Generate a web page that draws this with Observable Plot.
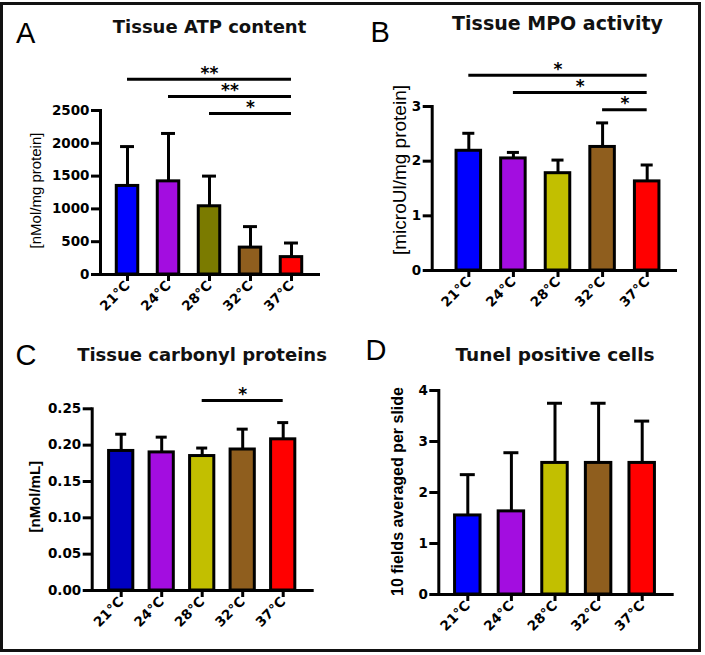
<!DOCTYPE html>
<html><head><meta charset="utf-8">
<script src="https://cdn.jsdelivr.net/npm/d3@7"></script>
<script src="https://cdn.jsdelivr.net/npm/@observablehq/plot@0.6"></script>
<style>
body{margin:0;background:#fff;}
#fig{position:relative;width:705px;height:655px;overflow:hidden;background:#fff;}
#border{position:absolute;left:0;top:2px;width:701px;height:650px;border:3.5px solid #111;box-sizing:border-box;pointer-events:none;}
</style></head><body><div id="fig"><div id="border"></div></div>
<script>
// ---- data ----
const temps = ["21°C", "24°C", "28°C", "32°C", "37°C"];

const atpMean = [1350, 1420, 1040, 410, 265];
const atpSD = [600, 730, 460, 320, 215];
const atpColors = ["#0000ff", "#a30de0", "#7b7b00", "#8f5e1e", "#ff0000"];
const atpTicks = [0, 500, 1000, 1500, 2000, 2500];
const atpSigFrom = ["21°C", "24°C", "28°C"];
const atpSigLabel = ["**", "**", "*"];

const mpoMean = [2.19, 2.05, 1.78, 2.26, 1.63];
const mpoSD = [0.32, 0.11, 0.24, 0.44, 0.30];
const mpoColors = ["#0000ff", "#a30de0", "#c2bf00", "#8f5e1e", "#ff0000"];
const mpoTicks = [0, 1, 2, 3];
const mpoSigFrom = ["21°C", "24°C", "32°C"];
const mpoSigLabel = ["*", "*", "*"];

const carbMean = [0.192, 0.190, 0.185, 0.194, 0.208];
const carbSD = [0.023, 0.021, 0.011, 0.028, 0.023];
const carbColors = ["#0000c0", "#a30de0", "#c2bf00", "#8f5e1e", "#ff0000"];
const carbTicks = [0, 0.05, 0.10, 0.15, 0.20, 0.25];
const carbSigFrom = ["28°C"];
const carbSigLabel = ["*"];

const tunelMean = [1.55, 1.63, 2.58, 2.58, 2.58];
const tunelSD = [0.80, 1.15, 1.17, 1.17, 0.82];
const tunelColors = ["#0000ff", "#a30de0", "#c2bf00", "#8f5e1e", "#ff0000"];
const tunelTicks = [0, 1, 2, 3, 4];
const tunelSigFrom = [];
const tunelSigLabel = [];

const sigTo = "37°C";

// ---- layout ----
const panels = [
  {letter: "A", title: "Tissue ATP content", ylabel: "[nMol/mg protein]", mean: atpMean, sd: atpSD, colors: atpColors,
   ticks: atpTicks, fmt: d3.format("d"), sigFrom: atpSigFrom, sigLabel: atpSigLabel,
   left: 0, top: 0, width: 350, height: 320, mL: 100, mR: 32, mT: 110, mB: 46, xDom: [-0.659, 4.659], hw: 0.262, cap: 0.17,
   sigBase: 0.982, sigStep: 0.104,
   titleX: 209.5, titleY: 33.3, titleSize: 18, letterX: 16, letterY: 42.7,
   ylX: 36.5, ylY: 190.5, ylSize: 15, ylWeight: "normal"},
  {letter: "B", title: "Tissue MPO activity", ylabel: "[microUl/mg protein]", mean: mpoMean, sd: mpoSD, colors: mpoColors,
   ticks: mpoTicks, fmt: d3.format("d"), sigFrom: mpoSigFrom, sigLabel: mpoSigLabel,
   left: 350, top: 0, width: 355, height: 320, mL: 81.7, mR: 30, mT: 106, mB: 50, xDom: [-0.821, 4.635], hw: 0.275, cap: 0.135,
   sigBase: 0.98, sigStep: 0.105,
   titleX: 557.5, titleY: 30, titleSize: 19, letterX: 370.5, letterY: 41.7,
   ylX: 400, ylY: 170, ylSize: 19, ylWeight: "normal"},
  {letter: "C", title: "Tissue carbonyl proteins", ylabel: "[nMol/mL]", mean: carbMean, sd: carbSD, colors: carbColors,
   ticks: carbTicks, fmt: d3.format(".2f"), sigFrom: carbSigFrom, sigLabel: carbSigLabel,
   left: 0, top: 320, width: 350, height: 335, mL: 91.7, mR: 38.3, mT: 88.3, mB: 65, xDom: [-0.716, 4.716], hw: 0.299, cap: 0.136,
   sigBase: 1.046, sigStep: 0.1,
   titleX: 202, titleY: 360.7, titleSize: 18, letterX: 15.5, letterY: 365,
   ylX: 35, ylY: 496.7, ylSize: 15, ylWeight: "bold"},
  {letter: "D", title: "Tunel positive cells", ylabel: "10 fields averaged per slide", mean: tunelMean, sd: tunelSD, colors: tunelColors,
   ticks: tunelTicks, fmt: d3.format("d"), sigFrom: tunelSigFrom, sigLabel: tunelSigLabel,
   left: 350, top: 320, width: 355, height: 335, mL: 88.3, mR: 33.3, mT: 70, mB: 61, xDom: [-0.665, 4.688], hw: 0.292, cap: 0.172,
   sigBase: 1, sigStep: 0.1,
   titleX: 555, titleY: 360.7, titleSize: 18.5, letterX: 365.5, letterY: 360,
   ylX: 398, ylY: 491.5, ylSize: 16, ylWeight: "bold"}
];

const fig = document.getElementById("fig");
const SW = 3;
const FONT = "'DejaVu Sans', sans-serif";

for (const p of panels) {
  const data = temps.map((t, i) => ({t, i, mean: p.mean[i], top: p.mean[i] + p.sd[i], color: p.colors[i]}));
  const yMax = p.ticks[p.ticks.length - 1];
  const n = p.sigFrom.length;
  const sig = p.sigFrom.map((f, k) => ({
    i1: temps.indexOf(f), i2: temps.indexOf(sigTo), label: p.sigLabel[k],
    level: yMax * (p.sigBase + p.sigStep * (n - 1 - k))
  }));
  const svg = Plot.plot({
    width: p.width, height: p.height,
    marginLeft: p.mL, marginRight: p.mR, marginTop: p.mT, marginBottom: p.mB,
    style: {fontFamily: FONT, fontWeight: "bold", fontSize: "13px", color: "#000", background: "transparent"},
    x: {type: "linear", domain: p.xDom},
    y: {domain: [0, yMax]},
    marks: [
      Plot.ruleX(data, {x: "i", y1: "mean", y2: "top", stroke: "#000", strokeWidth: SW}),
      Plot.rect(data, {x1: d => d.i - p.hw, x2: d => d.i + p.hw, y1: 0, y2: "mean", fill: "color", stroke: "#000", strokeWidth: SW}),
      Plot.ruleY(data, {x1: d => d.i - p.cap, x2: d => d.i + p.cap, y: "top", stroke: "#000", strokeWidth: SW}),
      Plot.ruleY(sig, {x1: "i1", x2: "i2", y: "level", stroke: "#000", strokeWidth: SW}),
      Plot.text(sig, {x: d => (d.i1 + d.i2) / 2, y: "level", text: "label", dy: -6, fontSize: 17, fontWeight: "bold", fill: "#000"}),
      Plot.frame({anchor: "left", stroke: "#000", strokeWidth: SW}),
      Plot.frame({anchor: "bottom", stroke: "#000", strokeWidth: SW}),
      Plot.axisY({ticks: p.ticks, tickFormat: p.fmt, tickSize: 9, tickPadding: 2, strokeWidth: SW, label: null, fontSize: 13, fontWeight: "bold"}),
      Plot.axisX({ticks: d3.range(temps.length), tickFormat: i => temps[i], tickSize: 7, tickPadding: 2, tickRotate: -45, strokeWidth: SW, label: null, fontSize: 13, fontWeight: "bold"})
    ]
  });
  d3.select(svg).selectAll("text").style("font-family", FONT).style("font-weight", "bold");
  d3.select(svg).selectAll("g[aria-label*='tick label'] text").style("font-size", "13.5px");
  svg.style.position = "absolute";
  svg.style.left = p.left + "px";
  svg.style.top = p.top + "px";
  svg.style.overflow = "visible";
  fig.insertBefore(svg, document.getElementById("border"));
}

// overlay with titles, panel letters and y labels
const ov = d3.create("svg").attr("width", 705).attr("height", 655)
  .style("position", "absolute").style("left", "0px").style("top", "0px");
for (const p of panels) {
  ov.append("text").attr("x", p.letterX).attr("y", p.letterY)
    .attr("font-family", "'Liberation Sans', Arial, sans-serif").attr("font-size", 29).attr("fill", "#000")
    .text(p.letter);
  ov.append("text").attr("x", p.titleX).attr("y", p.titleY).attr("text-anchor", "middle")
    .attr("font-family", FONT).attr("font-weight", "bold").attr("font-size", p.titleSize).attr("fill", "#111")
    .text(p.title);
  ov.append("text").attr("transform", `translate(${p.ylX},${p.ylY}) rotate(-90)`).attr("text-anchor", "middle").attr("dy", "0.3em")
    .attr("font-family", "'Liberation Sans', Arial, sans-serif").attr("font-weight", p.ylWeight).attr("font-size", p.ylSize).attr("fill", "#000")
    .text(p.ylabel);
}
fig.insertBefore(ov.node(), document.getElementById("border"));
</script></body></html>
